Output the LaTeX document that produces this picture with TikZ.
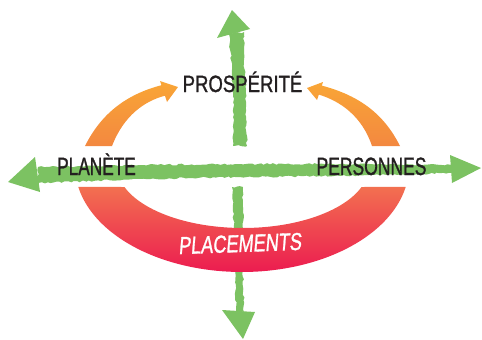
\documentclass[tikz,border=0pt]{standalone}
\usepackage{fontspec}
\setmainfont{Liberation Sans}
\newfontfamily\lblfont{Liberation Sans}[FakeBold=1.3]
\usetikzlibrary{decorations.pathmorphing}
\definecolor{grn}{RGB}{124,194,98}
\definecolor{orgtop}{RGB}{249,166,54}
\definecolor{orgbot}{RGB}{243,136,64}
\definecolor{redtop}{RGB}{242,112,80}
\definecolor{redbot}{RGB}{236,28,80}
\definecolor{ink}{RGB}{35,31,32}
\begin{document}
\begin{tikzpicture}[x=1pt,y=-1pt,
  brush/.style={fill=grn, decorate, decoration={random steps, segment length=3pt, amplitude=0.9pt}},
  greenhead/.style={fill=grn},
  arcband/.style={top color=orgtop, bottom color=orgbot},
  lbl/.style={text=ink, inner sep=0pt, anchor=base}]
\pgfmathsetseed{12}
\useasboundingbox (0,0) rectangle (482,340);

% vertical green arrow (upper and lower parts)
\path[brush] (229,34) -- (231,60) -- (233,90) -- (234,120) -- (233,146) -- (247,146) -- (246,120) -- (246,90) -- (244,60) -- (244,32) -- cycle;
\fill[greenhead] (217,38) -- (232,10) -- (250,29) -- cycle;
\path[brush] (232,187) -- (234,230) -- (235,270) -- (236,312) -- (244,312) -- (243,270) -- (243,230) -- (243,187) -- cycle;
\fill[greenhead] (222,310) -- (243,339) -- (255,312) -- cycle;

% orange upper arcs
\shade[arcband] (85,146) .. controls (102,112) and (128,94) .. (161.4,85.2) -- (160,81) -- (178,87) -- (167,102) -- (164.9,95.7) .. controls (145,101) and (124,115) .. (112,146) -- cycle;
\shade[arcband] (400,146) .. controls (383,112) and (357,95) .. (321.8,85.6) -- (323,82) -- (307,88) -- (317,100) -- (318.8,94.6) .. controls (340,101) and (362,116) .. (372,146) -- cycle;

% red lower band
\shade[top color=redtop, bottom color=redbot] plot[domain=11.4:168.6, samples=80, variable=\t] ({242+167*cos(\t)},{166+106*sin(\t)}) -- plot[domain=160.2:19.8, samples=80, variable=\t] ({243+126*cos(\t)},{166+62*sin(\t)}) -- cycle;

% horizontal green arrow
\path[brush] (38,167) -- (140,165) -- (240,164) -- (340,164) -- (452,165) -- (452,173) -- (340,176) -- (240,177) -- (140,179) -- (38,183) -- cycle;
\fill[greenhead] (35,157) -- (8,182) -- (40,192) -- cycle;
\fill[greenhead] (450,155) -- (481,168) -- (452,183) -- cycle;

% labels
\node[lbl, font=\lblfont\fontsize{23.5}{23.5}\selectfont] (pros) at (242.5,92) {\scalebox{0.79}[1]{PROSPÉRITÉ}};
\node[lbl, font=\lblfont\fontsize{25}{25}\selectfont] (plan) at (96.5,175) {\scalebox{0.69}[1]{PLANÈTE}};
\node[lbl, font=\lblfont\fontsize{25}{25}\selectfont] (pers) at (371.5,175) {\scalebox{0.70}[1]{PERSONNES}};
\node[lbl, text=white, rotate=2, xslant=0.12, font=\lblfont\fontsize{24.5}{24.5}\selectfont] (plac) at (240,252) {\scalebox{0.74}[1]{PLACEMENTS}};
\end{tikzpicture}
\end{document}
